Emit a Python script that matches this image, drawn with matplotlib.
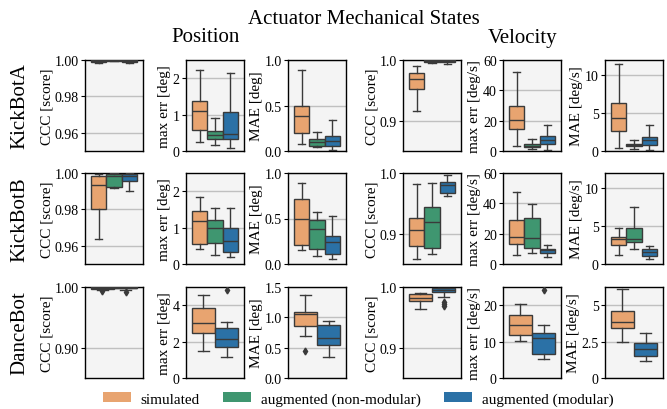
import numpy as np
import matplotlib
matplotlib.use('Agg')
import matplotlib.pyplot as plt
from matplotlib.patches import Patch

plt.rcParams['font.family'] = ['Liberation Serif', 'DejaVu Serif']

# box stats per hue: (whislo, q1, med, q3, whishi)
hues = ['simulated', 'augmented (non-modular)', 'augmented (modular)']
colors = ['#E8A470', '#3F9670', '#2B71A6']
rows = ['KickBotA', 'KickBotB', 'DanceBot']
ylabels = ['CCC [score]', 'max err [deg]', 'MAE [deg]',
           'CCC [score]', 'max err [deg/s]', 'MAE [deg/s]']

kba_pos_ccc = [(0.9985, 0.9990, 0.9995, 0.9998, 1.0), (0.9993, 0.9996, 0.9998, 0.9999, 1.0), (0.9984, 0.9989, 0.9994, 0.9998, 1.0)]
kba_pos_max = [(0.24, 0.58, 1.10, 1.37, 2.22), (0.16, 0.34, 0.44, 0.56, 0.91), (0.08, 0.33, 0.48, 1.06, 2.13)]
kba_pos_mae = [(0.08, 0.20, 0.38, 0.49, 0.89), (0.04, 0.06, 0.10, 0.13, 0.21), (0.01, 0.06, 0.11, 0.17, 0.34)]
kba_vel_ccc = [(0.9155, 0.953, 0.968, 0.978, 0.9906), (0.995, 0.997, 0.999, 0.9998, 1.0), (0.9935, 0.9965, 0.998, 0.9995, 1.0)]
kba_vel_max = [(3.3, 14.4, 20.7, 29.6, 52.4), (1.1, 2.4, 3.3, 4.4, 7.8), (0.7, 4.9, 7.3, 9.6, 16.9)]
kba_vel_mae = [(0.43, 2.7, 4.35, 6.3, 11.5), (0.3, 0.65, 0.8, 0.96, 1.4), (0.17, 0.8, 1.4, 1.9, 3.4)]

kbb_pos_ccc = [(0.9635, 0.9804, 0.9934, 0.9985, 0.9995), (0.992, 0.9925, 0.9985, 0.9995, 0.9998), (0.990, 0.9954, 0.9985, 0.9993, 0.9998)]
kbb_pos_max = [(0.41, 0.56, 1.18, 1.45, 1.84), (0.25, 0.57, 0.98, 1.21, 1.53), (0.18, 0.32, 0.62, 0.98, 1.55)]
kbb_pos_mae = [(0.154, 0.21, 0.50, 0.713, 0.886), (0.088, 0.16, 0.39, 0.485, 0.574), (0.06, 0.107, 0.246, 0.31, 0.522)]
kbb_vel_ccc = [(0.859, 0.879, 0.9056, 0.926, 0.9817), (0.867, 0.876, 0.919, 0.944, 0.983), (0.962, 0.9667, 0.9806, 0.9856, 0.9967)]
kbb_vel_max = [(5.8, 13.1, 17.8, 28.7, 47.8), (7.1, 10.4, 16.9, 30.2, 39.3), (4.4, 7.1, 9.3, 10.2, 12.2)]
kbb_vel_mae = [(1.14, 2.54, 3.25, 3.55, 4.78), (1.93, 2.9, 3.33, 4.7, 7.5), (0.61, 1.05, 1.62, 1.93, 2.37)]

db_pos_ccc = [(0.995, 0.997, 0.9985, 0.9995, 1.0), None, (0.9955, 0.998, 0.999, 0.9997, 1.0)]
db_pos_max = [(1.5, 2.45, 3.0, 3.84, 4.57), None, (1.13, 1.68, 2.17, 2.76, 3.09)]
db_pos_mae = [(0.69, 0.85, 1.06, 1.08, 1.366), None, (0.34, 0.55, 0.667, 0.87, 0.945)]
db_vel_ccc = [(0.964, 0.9767, 0.982, 0.988, 0.990), None, (0.983, 0.991, 0.9956, 0.9978, 0.9989)]
db_vel_max = [(10.1, 11.7, 14.5, 17.2, 20.4), None, (5.2, 6.6, 11.1, 12.3, 14.5)]
db_vel_mae = [(2.44, 3.45, 3.88, 4.61, 6.14), None, (1.14, 1.53, 2.0, 2.37, 3.08)]

# outliers per panel (hue index -> values)
db_pos_ccc_fl = {0: [0.9928], 2: [0.9922]}
db_pos_max_fl = {2: [4.84]}
db_pos_mae_fl = {0: [0.44]}
db_vel_ccc_fl = {2: [0.975, 0.972, 0.969]}
db_vel_max_fl = {2: [24.3]}

panels = [
    [kba_pos_ccc, kba_pos_max, kba_pos_mae, kba_vel_ccc, kba_vel_max, kba_vel_mae],
    [kbb_pos_ccc, kbb_pos_max, kbb_pos_mae, kbb_vel_ccc, kbb_vel_max, kbb_vel_mae],
    [db_pos_ccc, db_pos_max, db_pos_mae, db_vel_ccc, db_vel_max, db_vel_mae],
]
fliers = {(2, 0): db_pos_ccc_fl, (2, 1): db_pos_max_fl, (2, 2): db_pos_mae_fl,
          (2, 3): db_vel_ccc_fl, (2, 4): db_vel_max_fl}

ylims = [
    [(0.95, 1.0), (0, 2.5), (0, 1.0), (0.85, 1.0), (0, 60), (0, 12)],
    [(0.95, 1.0), (0, 2.5), (0, 1.0), (0.85, 1.0), (0, 60), (0, 12)],
    [(0.85, 1.0), (0, 5), (0, 1.5), (0.85, 1.0), (0, 25), (0, 6.25)],
]
yticks = [
    [[0.96, 0.98, 1.0], [0, 1, 2], [0, 0.5, 1.0], [0.9, 1.0], [0, 20, 40, 60], [0, 5, 10]],
    [[0.96, 0.98, 1.0], [0, 1, 2], [0, 0.5, 1.0], [0.9, 1.0], [0, 20, 40, 60], [0, 5, 10]],
    [[0.90, 1.0], [0, 2, 4], [0, 0.5, 1.0, 1.5], [0.9, 1.0], [0, 10, 20], [0, 2.5, 5]],
]
yticklabels = [
    [['0.96', '0.98', '1.00'], ['0', '1', '2'], ['0.0', '0.5', '1.0'], ['0.9', '1.0'], ['0', '20', '40', '60'], ['0', '5', '10']],
    [['0.96', '0.98', '1.00'], ['0', '1', '2'], ['0.0', '0.5', '1.0'], ['0.9', '1.0'], ['0', '20', '40', '60'], ['0', '5', '10']],
    [['0.90', '1.00'], ['0', '2', '4'], ['0.0', '0.5', '1.0', '1.5'], ['0.9', '1.0'], ['0', '10', '20'], ['0', '2.5', '5']],
]

W, H = 667, 410
fig = plt.figure(figsize=(W / 100, H / 100), dpi=100)
col_left = [85, 186, 288, 403, 503, 605]
row_top = [61, 174, 288]
aw, ah = 58, 91

edge = '#3a3a3a'
for r in range(3):
    for c in range(6):
        ax = fig.add_axes([col_left[c] / W, 1 - (row_top[r] + ah) / H, aw / W, ah / H])
        ax.set_facecolor('#F4F4F4')
        data = panels[r][c]
        present = [i for i, d in enumerate(data) if d is not None]
        n = len(present)
        bw = 0.8 / n
        fl = fliers.get((r, c), {})
        for k, i in enumerate(present):
            lo, q1, med, q3, hi = data[i]
            st = dict(whislo=lo, q1=q1, med=med, q3=q3, whishi=hi,
                      fliers=fl.get(i, []))
            pos = -0.4 + bw * (k + 0.5)
            ax.bxp([st], positions=[pos], widths=bw * 0.98, patch_artist=True,
                   boxprops=dict(facecolor=colors[i], edgecolor=edge, linewidth=1),
                   medianprops=dict(color=edge, linewidth=1),
                   whiskerprops=dict(color=edge, linewidth=1),
                   capprops=dict(color=edge, linewidth=1),
                   flierprops=dict(marker='d', markerfacecolor=edge, markeredgecolor=edge,
                                   markersize=3.5),
                   capwidths=bw * 0.5, zorder=3)
        ax.set_xlim(-0.5, 0.5)
        ax.set_ylim(*ylims[r][c])
        ax.set_yticks(yticks[r][c])
        ax.set_yticklabels(yticklabels[r][c], fontsize=10)
        ax.set_xticks([])
        ax.grid(axis='y', color='#C0C0C0', linewidth=1, zorder=0)
        ax.set_axisbelow(True)
        ax.tick_params(axis='y', length=3, pad=1.5, width=0.8)
        for s in ax.spines.values():
            s.set_color('black')
            s.set_linewidth(1)
        ax.set_ylabel(ylabels[c], fontsize=11, labelpad=1)
    fig.text(20 / W, 1 - (row_top[r] + ah / 2) / H, rows[r], rotation=90,
             ha='center', va='center', fontsize=15)

fig.text(364 / W, 1 - 19 / H, 'Actuator Mechanical States', ha='center', va='center', fontsize=15)
fig.text(206 / W, 1 - 38 / H, 'Position', ha='center', va='center', fontsize=15)
fig.text(523 / W, 1 - 38 / H, 'Velocity', ha='center', va='center', fontsize=15)

handles = [Patch(facecolor=col, edgecolor='none') for col in colors]
fig.legend(handles, hues, loc='center', bbox_to_anchor=(358 / W, 1 - 400 / H), ncol=3,
           frameon=False, fontsize=11, handlelength=1.85, handleheight=0.65,
           handletextpad=0.6, columnspacing=1.55, borderpad=0, borderaxespad=0)

fig.savefig('out.png', dpi=100)
